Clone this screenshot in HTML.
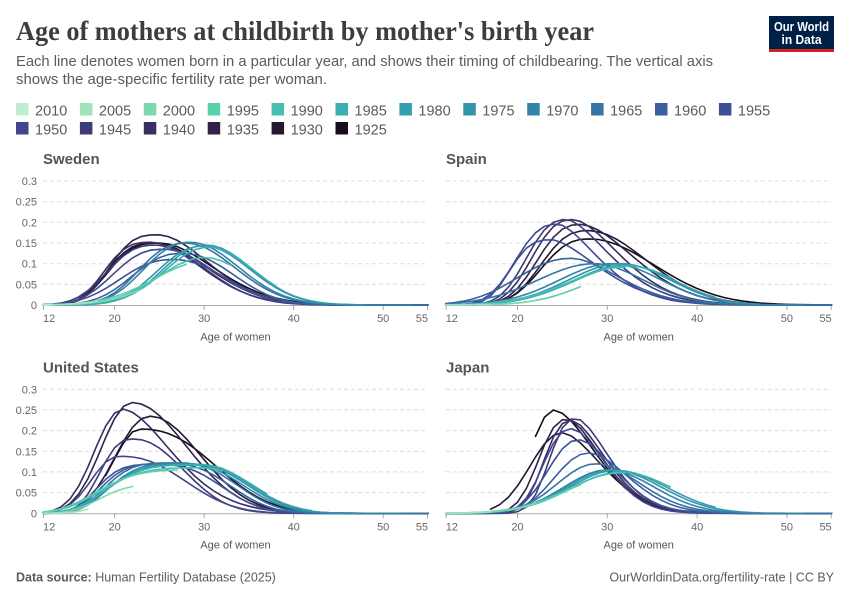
<!DOCTYPE html>
<html><head><meta charset="utf-8">
<style>
html,body{margin:0;padding:0;background:#fff;}
svg{display:block;font-family:"Liberation Sans",sans-serif;}
</style></head><body>
<svg width="850" height="600" viewBox="0 0 850 600" xmlns="http://www.w3.org/2000/svg">
<rect width="850" height="600" fill="#fff"/>
<!-- Header -->
<text x="16" y="40" style="font-family:'Liberation Serif',serif;font-weight:bold" font-size="27" fill="#3d3d3d" textLength="578" lengthAdjust="spacingAndGlyphs">Age of mothers at childbirth by mother's birth year</text>
<text x="16" y="66" font-size="14.5" fill="#5b5b5b" textLength="697" lengthAdjust="spacingAndGlyphs">Each line denotes women born in a particular year, and shows their timing of childbearing. The vertical axis</text>
<text x="16" y="84" font-size="14.5" fill="#5b5b5b" textLength="311" lengthAdjust="spacingAndGlyphs">shows the age-specific fertility rate per woman.</text>
<rect x="769" y="16" width="65" height="36" fill="#002147"/>
<rect x="769" y="49" width="65" height="3" fill="#ce261e"/>
<text x="801.5" y="31" font-size="12.5" font-weight="bold" fill="#fff" text-anchor="middle" textLength="55" lengthAdjust="spacingAndGlyphs">Our World</text>
<text x="801.5" y="44" font-size="12.5" font-weight="bold" fill="#fff" text-anchor="middle" textLength="40" lengthAdjust="spacingAndGlyphs">in Data</text>

<!-- Legend -->
<g font-size="14.5" fill="#5b5b5b">
<rect x="16" y="103" width="12.5" height="12.5" fill="#c1ecd1"/><text x="35" y="115.5">2010</text>
<rect x="79.9" y="103" width="12.5" height="12.5" fill="#a3e3bc"/><text x="98.9" y="115.5">2005</text>
<rect x="143.8" y="103" width="12.5" height="12.5" fill="#7fd8ad"/><text x="162.8" y="115.5">2000</text>
<rect x="207.7" y="103" width="12.5" height="12.5" fill="#5ccfab"/><text x="226.7" y="115.5">1995</text>
<rect x="271.6" y="103" width="12.5" height="12.5" fill="#45c0b0"/><text x="290.6" y="115.5">1990</text>
<rect x="335.5" y="103" width="12.5" height="12.5" fill="#3aafb1"/><text x="354.5" y="115.5">1985</text>
<rect x="399.4" y="103" width="12.5" height="12.5" fill="#349fae"/><text x="418.4" y="115.5">1980</text>
<rect x="463.3" y="103" width="12.5" height="12.5" fill="#3394ab"/><text x="482.3" y="115.5">1975</text>
<rect x="527.2" y="103" width="12.5" height="12.5" fill="#3384a7"/><text x="546.2" y="115.5">1970</text>
<rect x="591.1" y="103" width="12.5" height="12.5" fill="#3574a3"/><text x="610.1" y="115.5">1965</text>
<rect x="655" y="103" width="12.5" height="12.5" fill="#39619e"/><text x="674" y="115.5">1960</text>
<rect x="718.9" y="103" width="12.5" height="12.5" fill="#3d4f97"/><text x="737.9" y="115.5">1955</text>
<rect x="16" y="122" width="12.5" height="12.5" fill="#40468f"/><text x="35" y="134.5">1950</text>
<rect x="79.9" y="122" width="12.5" height="12.5" fill="#3f3a79"/><text x="98.9" y="134.5">1945</text>
<rect x="143.8" y="122" width="12.5" height="12.5" fill="#3a2d61"/><text x="162.8" y="134.5">1940</text>
<rect x="207.7" y="122" width="12.5" height="12.5" fill="#30224a"/><text x="226.7" y="134.5">1935</text>
<rect x="271.6" y="122" width="12.5" height="12.5" fill="#241833"/><text x="290.6" y="134.5">1930</text>
<rect x="335.5" y="122" width="12.5" height="12.5" fill="#170d18"/><text x="354.5" y="134.5">1925</text>
</g>

<!-- Panel titles -->
<g font-size="15" font-weight="bold" fill="#555">
<text x="43" y="164">Sweden</text>
<text x="446" y="164">Spain</text>
<text x="43" y="372.5">United States</text>
<text x="446" y="372.5">Japan</text>
</g>

<!-- Gridlines -->
<g stroke="#dcdcdc" stroke-width="1" stroke-dasharray="4 3">
<path d="M43 284.3H428M43 263.7H428M43 243H428M43 222.3H428M43 201.7H428M43 181H428"/>
<path d="M445.7 284.3H831.7M445.7 263.7H831.7M445.7 243H831.7M445.7 222.3H831.7M445.7 201.7H831.7M445.7 181H831.7"/>
<path d="M43 492.6H428M43 471.9H428M43 451.3H428M43 430.6H428M43 409.9H428M43 389.3H428"/>
<path d="M445.7 492.6H831.7M445.7 471.9H831.7M445.7 451.3H831.7M445.7 430.6H831.7M445.7 409.9H831.7M445.7 389.3H831.7"/>
</g>

<!-- Axes lines and ticks -->
<g stroke="#aaa" stroke-width="1" fill="none">
<path d="M43 305.5H428M445.7 305.5H831.7M43 513.8H428M445.7 513.8H831.7"/>
<path d="M43.5 305V310M114.6 305V310M204.2 305V310M293.7 305V310M383.2 305V310M427.5 305V310"/>
<path d="M446.2 305V310M517.5 305V310M607.3 305V310M697.1 305V310M786.9 305V310M831.2 305V310"/>
<path d="M43.5 513.3V518.3M114.6 513.3V518.3M204.2 513.3V518.3M293.7 513.3V518.3M383.2 513.3V518.3M427.5 513.3V518.3"/>
<path d="M446.2 513.3V518.3M517.5 513.3V518.3M607.3 513.3V518.3M697.1 513.3V518.3M786.9 513.3V518.3M831.2 513.3V518.3"/>
</g>

<!-- Y labels -->
<g font-size="11" fill="#666" text-anchor="end">
<text x="37" y="185">0.3</text><text x="37" y="205.7">0.25</text><text x="37" y="226.3">0.2</text><text x="37" y="247">0.15</text><text x="37" y="267.7">0.1</text><text x="37" y="288.3">0.05</text><text x="37" y="309">0</text>
<text x="37" y="393.3">0.3</text><text x="37" y="413.9">0.25</text><text x="37" y="434.6">0.2</text><text x="37" y="455.3">0.15</text><text x="37" y="475.9">0.1</text><text x="37" y="496.6">0.05</text><text x="37" y="517.3">0</text>
</g>

<!-- X labels -->
<g font-size="11" fill="#666" text-anchor="middle">
<text x="43" y="322" text-anchor="start">12</text><text x="114.6" y="322">20</text><text x="204.2" y="322">30</text><text x="293.7" y="322">40</text><text x="383.2" y="322">50</text><text x="428" y="322" text-anchor="end">55</text>
<text x="445.7" y="322" text-anchor="start">12</text><text x="517.5" y="322">20</text><text x="607.3" y="322">30</text><text x="697.1" y="322">40</text><text x="786.9" y="322">50</text><text x="831.7" y="322" text-anchor="end">55</text>
<text x="43" y="530.5" text-anchor="start">12</text><text x="114.6" y="530.5">20</text><text x="204.2" y="530.5">30</text><text x="293.7" y="530.5">40</text><text x="383.2" y="530.5">50</text><text x="428" y="530.5" text-anchor="end">55</text>
<text x="445.7" y="530.5" text-anchor="start">12</text><text x="517.5" y="530.5">20</text><text x="607.3" y="530.5">30</text><text x="697.1" y="530.5">40</text><text x="786.9" y="530.5">50</text><text x="831.7" y="530.5" text-anchor="end">55</text>
</g>
<g font-size="11" fill="#555" text-anchor="middle">
<text x="235.5" y="340.5">Age of women</text>
<text x="638.7" y="340.5">Age of women</text>
<text x="235.5" y="548.5">Age of women</text>
<text x="638.7" y="548.5">Age of women</text>
</g>

<!-- Series groups -->
<g id="sw"></g><g id="sp"></g><g id="us"></g><g id="jp"></g>

<!-- Footer -->
<text x="16" y="581.5" font-size="12.5" fill="#5b5b5b"><tspan font-weight="bold">Data source:</tspan> Human Fertility Database (2025)</text>
<text x="834" y="581.5" font-size="12.5" fill="#5b5b5b" text-anchor="end">OurWorldinData.org/fertility-rate | CC BY</text>
</svg>
<script>
(function(){
var NS='http://www.w3.org/2000/svg';
var cols={2010:'#c1ecd1',2005:'#a3e3bc',2000:'#7fd8ad',1995:'#5ccfab',1990:'#45c0b0',1985:'#3aafb1',1980:'#349fae',1975:'#3394ab',1970:'#3384a7',1965:'#3574a3',1960:'#39619e',1955:'#3d4f97',1950:'#40468f',1945:'#3f3a79',1940:'#3a2d61',1935:'#30224a',1930:'#241833',1925:'#170d18'};
var order=[1925,1930,1935,1940,1945,1950,1955,1960,1965,1970,1975,1980,1985,1990,1995,2000,2005,2010];
var P=[
{g:'sw',x0:43,x1:428,y0:305,last:2023,d:{
2010:[30,0.1,5,2,5,2],2005:[30,0.1,5.5,2,5,2],2000:[31,0.11,5.5,2,5,2],1995:[30,0.105,5.5,2,5,2],
1990:[30,0.115,5,2,5,2],1985:[30.5,0.14,4.8,2.1,5,2],1980:[30.3,0.145,4.8,2.2,5,2],1975:[30,0.143,5,2.3,5.1,2],
1970:[28.5,0.152,5,2.4,5.3,2],1965:[28,0.15,5,2.5,5.4,2],1960:[27.5,0.125,5.2,2.4,5.6,2.2],1955:[26.5,0.11,5.6,2.4,5.8,2.2],
1950:[25.5,0.135,5.3,2.6,5.6,2],1945:[24.5,0.145,5,2.6,5.6,2],1940:[24,0.152,4.8,3,5.6,1.9],1935:[24.8,0.17,5,3,5.6,1.9],
1930:[24.5,0.15,5,3,5.8,1.9],1925:[25,0.15,5.3,3,6,1.9]}},
{g:'sp',x0:445.7,x1:831.7,y0:305,last:2022,d:{
2005:[33,0.08,5.5,2,5,2],2000:[33,0.08,5.5,2,5,2],1995:[33,0.08,5.5,2,5,2],1990:[32,0.092,6.2,2,5.5,2],
1985:[32.3,0.095,6,2,5.5,2],1980:[32,0.097,5.8,2,5.5,2],1975:[31.5,0.1,5.8,2,5.5,2],1970:[30.5,0.1,5.8,2,5.5,2],
1965:[28.5,0.1,6.2,2,5.5,2],1960:[26,0.113,5.8,2.2,5.2,1.8],1955:[23.8,0.158,4.3,3,5,1.6],1950:[24.5,0.196,4.4,2.6,4.3,1.6],
1945:[25.5,0.207,4.2,2.6,4.6,1.6],1940:[26.2,0.207,4.3,2.6,5,1.7],1935:[27,0.195,4.5,2.6,5.8,1.8],
1930:[27.8,0.18,4.8,2.6,6.5,2],1925:[28,0.16,5,2.6,7.2,2]}},
{g:'us',x0:43,x1:428,y0:513.3,last:2022,d:{
2005:[28,0.06,8,4,5,2],2000:[27,0.07,8,4,5,2],1995:[30,0.105,11,4,5,2],1990:[30,0.11,10.5,3.8,5.2,2],
1985:[30,0.117,10,4,5.2,2],1980:[29.5,0.118,9.5,4,5.4,2.1],1975:[29,0.118,9,4,5.6,2.2],1970:[28,0.12,8,4,6,2.3],
1965:[27,0.122,7.5,4,6.3,2.5],1960:[26,0.12,7,4,6.5,2.6],1955:[25,0.118,6.5,4,6.5,2.6],1950:[20.5,0.138,3,2.2,7,2.4],
1945:[22,0.18,3.4,2.6,5.5,2.2],1940:[21,0.252,3.2,2.2,5.2,1.7],1935:[22,0.268,3.4,2.2,6,2],
1930:[24,0.235,3.8,2.2,5.5,2],1925:[22.8,0.204,3,2,8,2.4,19]}},
{g:'jp',x0:445.7,x1:831.7,y0:513.3,last:2022,d:{
2005:[31,0.09,5.5,2,5,2],2000:[31,0.09,5.5,2,5,2],1995:[31,0.09,5.5,2,5,2],1990:[31.5,0.098,5.8,2,5.8,2],
1985:[31.5,0.1,5.5,2,5.8,2],1980:[31,0.104,5.2,2,5.6,2],1975:[30.5,0.105,5,2,5.5,2],1970:[30,0.105,4.8,2,5.2,2],
1965:[28.8,0.12,4.3,2.1,4.8,1.9],1960:[28,0.146,3.8,2.2,4.3,1.8],1955:[26.8,0.178,3.3,2.2,4,1.8],1950:[26,0.205,3,2.4,3.7,1.8],
1945:[26.5,0.23,2.8,2.5,3.6,1.7],1940:[26,0.225,2.9,2.5,3.7,1.7],1935:[25.5,0.228,3,2.4,3.8,1.7],
1930:[25,0.195,3.5,2.16,4.3,1.7,17],1925:[24,0.25,2.6,2,4.5,1.8,22]}}
];
P.forEach(function(p){
  var g=document.getElementById(p.g);var k=(p.x1-p.x0)/43;
  order.forEach(function(c){
    var q=p.d[c]||[30,0.1,5,2,5,2];var st=q[6]||12;var en=Math.min(55,p.last-c);
    if(en<=st)return;
    var s='';
    for(var a=st;a<=en;a++){
      var d=a-q[0];
      var r=d<0?Math.exp(-0.5*Math.pow(-d/q[2],q[3])):Math.exp(-0.5*Math.pow(d/q[4],q[5]));
      var v=q[1]*r;
      s+=(a==st?'M':'L')+(p.x0+(a-12)*k).toFixed(1)+' '+(p.y0-v*413.3).toFixed(1);
    }
    var e=document.createElementNS(NS,'path');
    e.setAttribute('d',s);e.setAttribute('stroke',cols[c]);e.setAttribute('fill','none');
    e.setAttribute('stroke-width','1.6');e.setAttribute('stroke-linejoin','round');e.setAttribute('stroke-linecap','round');
    g.appendChild(e);
  });
});
})();
</script>
</body></html>
